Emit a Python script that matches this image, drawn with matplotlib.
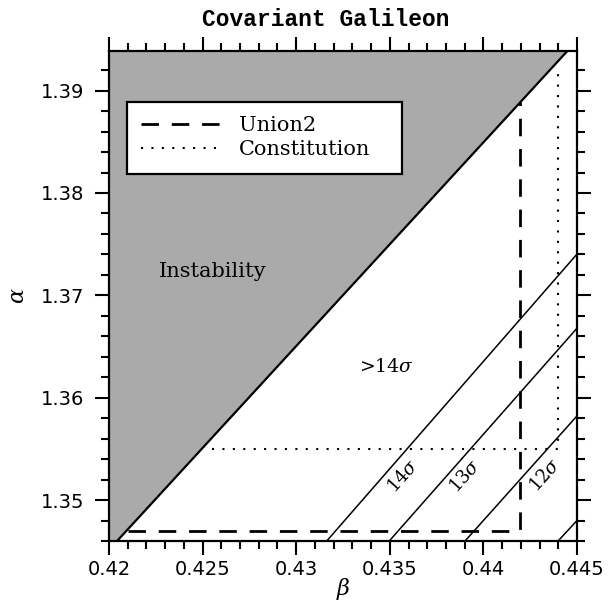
import matplotlib
matplotlib.use("Agg")
import matplotlib.pyplot as plt
from matplotlib.ticker import MultipleLocator

plt.rcParams['font.family'] = ['DejaVu Serif']
plt.rcParams['mathtext.fontset'] = 'dejavuserif'

# axis ranges
beta_lim = [0.42, 0.445]
alpha_lim = [1.346, 1.3939]

# instability boundary (region to the upper-left is unstable)
beta_inst = [0.42043, 0.4445]
alpha_inst = [1.346, 1.3939]

# sigma contour lines
sigma_names = ['14$\\sigma$', '13$\\sigma$', '12$\\sigma$', '']
sigma_beta = [[0.43163, 0.445], [0.43497, 0.445], [0.43902, 0.445], [0.44399, 0.445]]
sigma_alpha = [[1.346, 1.37403], [1.346, 1.36679], [1.346, 1.35822], [1.346, 1.3480]]
sigma_label_pos = [(0.43571, 1.35228), (0.43902, 1.35228), (0.44329, 1.35245)]

# Union2 bound (dashed)
union_beta = [0.42101, 0.44196, 0.44196]
union_alpha = [1.34697, 1.34697, 1.3889]

# Constitution bound (dotted)
const_beta = [0.42548, 0.44397, 0.44397]
const_alpha = [1.35496, 1.35496, 1.3923]

xticks = [0.42, 0.425, 0.43, 0.435, 0.44, 0.445]
xticklabels = ['0.42', '0.425', '0.43', '0.435', '0.44', '0.445']
yticks = [1.35, 1.36, 1.37, 1.38, 1.39]
yticklabels = ['1.35', '1.36', '1.37', '1.38', '1.39']

fig = plt.figure(figsize=(6.08, 6.03), dpi=100)
ax = fig.add_axes([0.1793, 0.1028, 0.7697, 0.8131])

ax.fill_betweenx(alpha_inst, beta_lim[0], beta_inst, color='#aaaaaa', lw=0)
ax.plot(beta_inst, alpha_inst, color='black', lw=1.6)

for b, a in zip(sigma_beta, sigma_alpha):
    ax.plot(b, a, color='black', lw=1.1)

ax.plot(union_beta, union_alpha, color='black', lw=2, dashes=(6.3, 4.6), label='Union2')
ax.plot(const_beta, const_alpha, color='black', lw=1.5, dashes=(1, 4), label='Constitution')

for name, (b, a) in zip(sigma_names, sigma_label_pos):
    ax.text(b, a, name, rotation=48, ha='center', va='center', fontsize=13)

ax.text(0.42553, 1.3723, 'Instability', ha='center', va='center', fontsize=15)
ax.text(0.43483, 1.36304, '>14$\\sigma$', ha='center', va='center', fontsize=13.5)

ax.set_xlim(beta_lim)
ax.set_ylim(alpha_lim)
ax.xaxis.set_minor_locator(MultipleLocator(0.001))
ax.yaxis.set_minor_locator(MultipleLocator(0.002))
ax.set_xticks(xticks)
ax.set_xticklabels(xticklabels, family='DejaVu Sans')
ax.set_yticks(yticks)
ax.set_yticklabels(yticklabels, family='DejaVu Sans')
ax.tick_params(which='both', direction='out', top=True, right=True, width=1.5, labelsize=14)
ax.tick_params(which='major', length=10)
ax.tick_params(axis='y', which='major', pad=8)
ax.tick_params(which='minor', length=6)
for s in ax.spines.values():
    s.set_linewidth(1.6)

ax.set_xlabel('$\\beta$', fontsize=16, labelpad=-2)
ax.set_ylabel('$\\alpha$', fontsize=16, labelpad=8)
fig.text(0.536, 0.968, 'Covariant Galileon', family='Liberation Mono', fontweight='bold',
         fontsize=16.5, ha='center', va='center')

leg = ax.legend(loc='upper left', bbox_to_anchor=(0.038, 0.896, 0.588, 0.0), mode='expand',
                borderaxespad=0, frameon=True, fancybox=False, fontsize=15,
                handlelength=3.85, handletextpad=0.85, borderpad=0.7, labelspacing=0.25)
leg.get_frame().set_edgecolor('black')
leg.get_frame().set_linewidth(1.6)
leg.get_frame().set_alpha(1)

fig.savefig('out.png', dpi=100)
